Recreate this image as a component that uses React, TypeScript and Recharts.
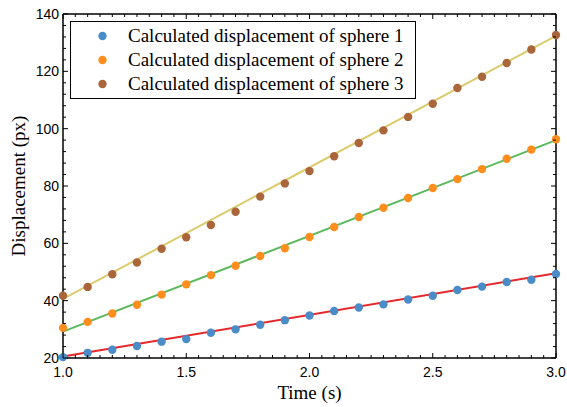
import React from 'react';
import { LineChart, Line, XAxis, YAxis, Legend } from 'recharts';

const time = [1.0, 1.1, 1.2, 1.3, 1.4, 1.5, 1.6, 1.7, 1.8, 1.9, 2.0, 2.1, 2.2, 2.3, 2.4, 2.5, 2.6, 2.7, 2.8, 2.9, 3.0];
const sphere1 = [20.3, 21.8, 22.9, 24.2, 25.7, 26.6, 28.8, 30.0, 31.6, 33.2, 34.8, 36.4, 37.6, 38.7, 40.4, 41.7, 43.7, 44.9, 46.5, 47.3, 49.3];
const sphere2 = [30.5, 32.6, 35.5, 38.6, 42.1, 45.7, 48.9, 52.2, 55.6, 58.3, 62.2, 65.7, 69.2, 72.4, 75.8, 79.3, 82.4, 85.9, 89.5, 92.7, 96.3];
const sphere3 = [41.7, 44.8, 49.2, 53.3, 58.1, 62.1, 66.4, 71.0, 76.3, 80.9, 85.2, 90.4, 95.0, 99.4, 104.1, 108.7, 114.2, 118.1, 122.9, 127.6, 132.7];

// fitted lines, read at both ends of the time range
const fitTime = [1.0, 3.0];
const fit1 = [20.5, 49.6];
const fit2 = [29.2, 96.0];
const fit3 = [40.6, 132.4];

const xMajor = [1.0, 1.5, 2.0, 2.5, 3.0];
const yMajor = [20, 40, 60, 80, 100, 120, 140];

// minor ticks: every 0.05 s and every 4 px
const xTicks = Array.from({ length: 41 }, (_, i) => (100 + 5 * i) / 100);
const yTicks = Array.from({ length: 31 }, (_, i) => 20 + 4 * i);

const toRows = (ts: number[], vs: number[]) => ts.map((t, i) => ({ t, v: vs[i] }));

const SERIES = [
  { name: 'Calculated displacement of sphere 1', values: sphere1, fit: fit1, dot: '#4A8CC8', line: '#E5282B' },
  { name: 'Calculated displacement of sphere 2', values: sphere2, fit: fit2, dot: '#FF8E1F', line: '#5CB85C' },
  { name: 'Calculated displacement of sphere 3', values: sphere3, fit: fit3, dot: '#AA663A', line: '#DCCB6E' },
];

const SANS = '"Liberation Sans", Arial, sans-serif';
const SERIF = '"Liberation Serif", "Times New Roman", serif';

const isMajor = (list: number[], v: number) => list.some((m) => Math.abs(m - v) < 1e-6);

const BottomTick = (props: any) => {
  const { x, y, payload } = props;
  const major = isMajor(xMajor, payload.value);
  return (
    <g>
      <line x1={x} y1={y} x2={x} y2={y - (major ? 5 : 3)} stroke="#000" strokeWidth={1} />
      {major && (
        <text x={x} y={y + 19} textAnchor="middle" fontFamily={SANS} fontSize={14} fill="#000">
          {payload.value.toFixed(1)}
        </text>
      )}
    </g>
  );
};

const TopTick = (props: any) => {
  const { x, y, payload } = props;
  const major = isMajor(xMajor, payload.value);
  return <line x1={x} y1={y} x2={x} y2={y + (major ? 5 : 3)} stroke="#000" strokeWidth={1} />;
};

const LeftTick = (props: any) => {
  const { x, y, payload } = props;
  const major = isMajor(yMajor, payload.value);
  return (
    <g>
      <line x1={x} y1={y} x2={x + (major ? 5 : 3)} y2={y} stroke="#000" strokeWidth={1} />
      {major && (
        <text x={x - 4} y={y + 5} textAnchor="end" fontFamily={SANS} fontSize={14} fill="#000">
          {payload.value}
        </text>
      )}
    </g>
  );
};

const RightTick = (props: any) => {
  const { x, y, payload } = props;
  const major = isMajor(yMajor, payload.value);
  return <line x1={x} y1={y} x2={x - (major ? 5 : 3)} y2={y} stroke="#000" strokeWidth={1} />;
};

const renderLegend = (props: any) => {
  const items = (props.payload || []).filter((p: any) => p.type !== 'none');
  return (
    <div
      style={{
        width: 344,
        height: 74,
        border: '1.5px solid #000',
        background: '#fff',
        paddingTop: 1.5,
        boxSizing: 'content-box',
      }}
    >
      {items.map((p: any) => {
        const s = SERIES.find((d) => d.name === p.value);
        return (
          <div key={p.value} style={{ height: 24, display: 'flex', alignItems: 'center' }}>
            <svg width={57} height={24} style={{ flex: 'none' }}>
              <circle cx={31.5} cy={12} r={4.2} fill={s ? s.dot : '#000'} />
            </svg>
            <span style={{ fontFamily: SERIF, fontSize: 19, color: '#000', whiteSpace: 'nowrap' }}>{p.value}</span>
          </div>
        );
      })}
    </div>
  );
};

export default function App() {
  const axisLine = { stroke: '#000', strokeWidth: 1.5 };
  return (
    <div style={{ position: 'absolute', left: 0, top: 0, background: '#fff' }}>
      <LineChart width={567} height={407} margin={{ top: 13, right: 10, bottom: 0, left: 0 }}>
        <XAxis
          dataKey="t"
          type="number"
          domain={[1, 3]}
          ticks={xTicks}
          interval={0}
          tickSize={0}
          tickMargin={0}
          tick={<BottomTick />}
          axisLine={axisLine}
          height={49}
          label={{ value: 'Time (s)', position: 'insideBottom', offset: 8, fontFamily: SERIF, fontSize: 19, fill: '#000' }}
        />
        <XAxis
          xAxisId="top"
          orientation="top"
          dataKey="t"
          type="number"
          domain={[1, 3]}
          allowDataOverflow
          ticks={xTicks}
          interval={0}
          tickSize={0}
          tickMargin={0}
          tick={<TopTick />}
          axisLine={axisLine}
          height={1}
        />
        <YAxis
          type="number"
          domain={[20, 140]}
          ticks={yTicks}
          interval={0}
          tickSize={0}
          tickMargin={0}
          tick={<LeftTick />}
          axisLine={axisLine}
          width={63}
          label={{
            value: 'Displacement (px)',
            angle: -90,
            position: 'insideLeft',
            offset: 18,
            fontFamily: SERIF,
            fontSize: 19,
            fill: '#000',
            style: { textAnchor: 'middle' },
          }}
        />
        <YAxis
          yAxisId="right"
          orientation="right"
          type="number"
          domain={[20, 140]}
          allowDataOverflow
          ticks={yTicks}
          interval={0}
          tickSize={0}
          tickMargin={0}
          tick={<RightTick />}
          axisLine={axisLine}
          width={1}
        />
        <Legend
          layout="vertical"
          align="center"
          verticalAlign="middle"
          content={renderLegend}
          wrapperStyle={{ position: 'absolute', left: 70, top: 21, width: 'auto' }}
        />
        {SERIES.map((s) => (
          <Line
            key={`fit-${s.name}`}
            data={toRows(fitTime, s.fit)}
            dataKey="v"
            type="linear"
            stroke={s.line}
            strokeWidth={2}
            dot={false}
            activeDot={false}
            legendType="none"
            isAnimationActive={false}
          />
        ))}
        {SERIES.map((s) => (
          <Line
            key={s.name}
            name={s.name}
            data={toRows(time, s.values)}
            dataKey="v"
            type="linear"
            stroke="none"
            dot={{ r: 4.2, fill: s.dot, stroke: 'none', clipDot: false }}
            activeDot={false}
            legendType="circle"
            isAnimationActive={false}
          />
        ))}
      </LineChart>
    </div>
  );
}
